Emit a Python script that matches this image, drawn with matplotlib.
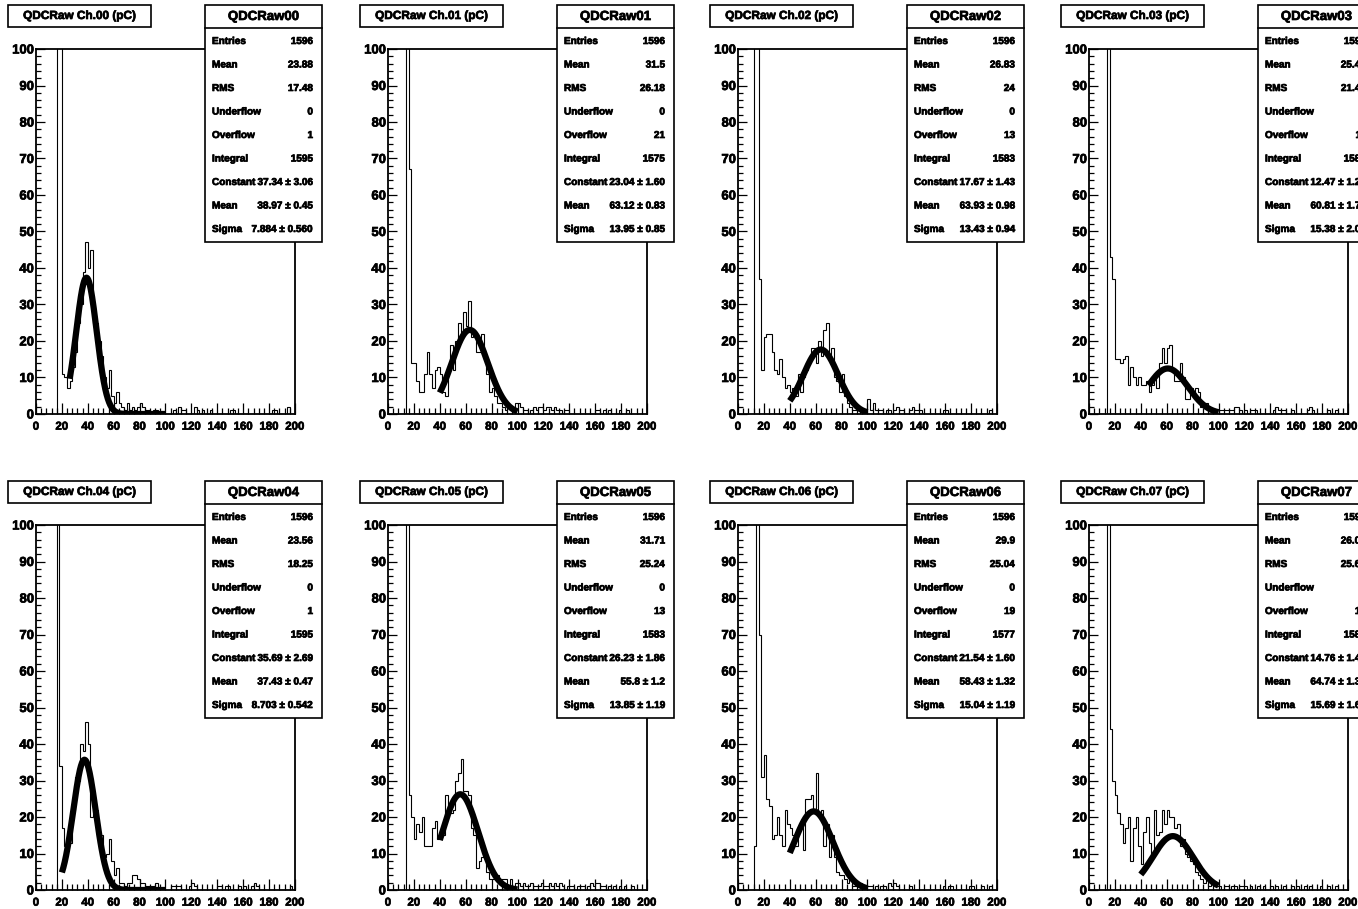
import matplotlib
matplotlib.use('Agg')
import matplotlib.pyplot as plt
import matplotlib.patheffects as pe
from matplotlib.ticker import MultipleLocator
from matplotlib.patches import Rectangle
import numpy as np

plt.rcParams['font.family'] = ['Liberation Sans', 'DejaVu Sans']
plt.rcParams['font.weight'] = 'bold'

W, H = 1358, 909

# histogram binning: 100 bins of 2 pC from 0 to 200
edges = np.arange(0, 202, 2)

channels = ['00', '01', '02', '03', '04', '05', '06', '07']

counts_00 = [0, 0, 0, 0, 0, 0, 0, 0, 250, 150,
             11, 10, 7, 9, 13, 17, 25, 30, 39, 47,
             40, 45, 25, 25, 20, 16, 10, 7, 12, 5,
             3, 6, 3, 2, 1, 3, 1, 2, 1, 2,
             3, 2, 1, 1, 0, 1, 1, 0, 0, 0,
             0, 0, 0, 1, 0, 2, 1, 1, 0, 0,
             0, 2, 1, 0, 1, 0, 0, 1, 0, 0,
             0, 0, 0, 0, 0, 1, 1, 0, 0, 0,
             0, 0, 0, 0, 0, 0, 0, 0, 0, 0,
             0, 1, 1, 0, 0, 0, 0, 2, 0, 0]
counts_01 = [0, 0, 0, 0, 0, 0, 0, 200, 67, 14,
             14, 9, 6, 6, 11, 17, 11, 7, 12, 13,
             11, 6, 5, 13, 19, 12, 20, 25, 22, 28,
             24, 31, 21, 22, 17, 17, 22, 15, 11, 6,
             7, 5, 3, 3, 2, 1, 2, 1, 1, 3,
             3, 2, 1, 1, 0, 1, 2, 1, 2, 2,
             1, 2, 2, 1, 2, 1, 1, 0, 1, 1,
             0, 0, 0, 0, 0, 0, 0, 0, 0, 0,
             1, 1, 0, 1, 0, 1, 0, 0, 0, 1,
             0, 0, 1, 0, 0, 0, 0, 0, 0, 0]
counts_02 = [0, 0, 0, 0, 0, 0, 180, 130, 37, 12,
             21, 22, 22, 17, 12, 11, 15, 10, 7, 8,
             6, 7, 5, 11, 6, 10, 12, 15, 18, 18,
             14, 20, 16, 23, 25, 16, 18, 10, 9, 6,
             11, 5, 3, 2, 1, 1, 1, 0, 1, 0,
             4, 1, 3, 1, 1, 1, 0, 1, 1, 0,
             1, 2, 1, 1, 0, 0, 1, 2, 1, 1,
             1, 0, 0, 0, 0, 0, 0, 0, 0, 1,
             1, 0, 0, 0, 0, 0, 0, 0, 0, 0,
             0, 0, 0, 0, 0, 0, 0, 1, 0, 0]
counts_03 = [0, 0, 0, 0, 0, 0, 0, 200, 43, 37,
             15, 15, 14, 15, 16, 8, 13, 10, 8, 10,
             8, 8, 9, 6, 8, 10, 7, 14, 18, 14,
             18, 19, 12, 9, 9, 14, 10, 4, 4, 7,
             6, 7, 6, 2, 3, 3, 1, 1, 1, 0,
             1, 1, 1, 1, 1, 1, 2, 2, 1, 0,
             1, 0, 1, 1, 1, 0, 0, 0, 0, 0,
             0, 1, 2, 1, 1, 1, 0, 0, 1, 0,
             0, 0, 0, 0, 1, 2, 1, 0, 0, 0,
             0, 0, 1, 0, 0, 1, 0, 0, 0, 0]
counts_04 = [0, 0, 0, 0, 0, 0, 0, 0, 200, 34,
             17, 12, 14, 13, 22, 31, 30, 40, 38, 46,
             40, 20, 22, 22, 13, 15, 9, 10, 14, 8,
             4, 6, 2, 2, 1, 2, 2, 4, 4, 3,
             2, 2, 1, 1, 1, 1, 2, 0, 0, 0,
             0, 0, 1, 1, 1, 1, 0, 0, 0, 1,
             2, 1, 0, 0, 0, 0, 0, 0, 0, 0,
             1, 1, 0, 1, 1, 0, 0, 0, 1, 0,
             1, 0, 0, 1, 2, 1, 0, 0, 0, 0,
             0, 0, 0, 0, 0, 0, 0, 0, 1, 0]
counts_05 = [0, 0, 0, 0, 0, 0, 0, 200, 26, 20,
             14, 18, 16, 20, 12, 12, 12, 17, 19, 14,
             15, 15, 26, 21, 21, 22, 30, 32, 36, 27,
             27, 26, 17, 15, 6, 8, 9, 10, 5, 3,
             3, 4, 4, 3, 3, 3, 1, 3, 1, 2,
             2, 1, 2, 1, 1, 2, 1, 1, 1, 2,
             1, 1, 2, 1, 2, 1, 2, 1, 0, 1,
             1, 1, 0, 1, 1, 1, 0, 1, 2, 1,
             2, 2, 1, 1, 0, 1, 0, 1, 0, 1,
             0, 1, 0, 0, 1, 0, 0, 0, 0, 0]
counts_06 = [0, 0, 0, 0, 0, 0, 12, 200, 70, 31,
             37, 25, 23, 14, 15, 20, 15, 12, 22, 18,
             17, 15, 12, 17, 18, 11, 25, 25, 26, 21,
             32, 21, 22, 12, 18, 9, 15, 9, 5, 4,
             4, 3, 2, 4, 1, 1, 2, 2, 1, 0,
             1, 1, 0, 1, 0, 1, 1, 0, 2, 1,
             2, 1, 0, 0, 0, 0, 1, 0, 0, 0,
             0, 0, 0, 0, 0, 0, 0, 0, 0, 1,
             0, 1, 1, 0, 0, 0, 0, 0, 0, 1,
             1, 0, 0, 0, 1, 0, 0, 1, 0, 0]
counts_07 = [0, 0, 0, 0, 0, 0, 0, 200, 44, 30,
             26, 21, 18, 13, 17, 20, 8, 17, 20, 12,
             7, 16, 20, 13, 10, 22, 15, 16, 22, 18,
             22, 20, 20, 17, 18, 12, 14, 10, 9, 8,
             7, 5, 4, 3, 2, 4, 1, 2, 1, 1,
             1, 0, 1, 1, 0, 1, 1, 0, 1, 1,
             1, 0, 1, 0, 0, 1, 0, 1, 0, 0,
             1, 0, 1, 0, 0, 1, 0, 0, 1, 0,
             1, 0, 0, 1, 0, 1, 0, 0, 0, 1,
             0, 0, 1, 0, 0, 1, 0, 0, 0, 0]
all_counts = [counts_00, counts_01, counts_02, counts_03,
              counts_04, counts_05, counts_06, counts_07]

# stats box contents
st_entries = ['1596', '1596', '1596', '1596', '1596', '1596', '1596', '1596']
st_mean = ['23.88', '31.5', '26.83', '25.44', '23.56', '31.71', '29.9', '26.05']
st_rms = ['17.48', '26.18', '24', '21.46', '18.25', '25.24', '25.04', '25.64']
st_under = ['0', '0', '0', '0', '0', '0', '0', '0']
st_over = ['1', '21', '13', '11', '1', '13', '19', '14']
st_integral = ['1595', '1575', '1583', '1585', '1595', '1583', '1577', '1582']

# gaussian fit results
fit_const = [37.34, 23.04, 17.67, 12.47, 35.69, 26.23, 21.54, 14.76]
fit_const_err = ['3.06', '1.60', '1.43', '1.25', '2.69', '1.86', '1.60', '1.42']
fit_mean = [38.97, 63.12, 63.93, 60.81, 37.43, 55.8, 58.43, 64.74]
fit_mean_err = ['0.45', '0.83', '0.98', '1.73', '0.47', '1.2', '1.32', '1.35']
fit_sigma = [7.884, 13.95, 13.43, 15.38, 8.703, 13.85, 15.04, 15.69]
fit_sigma_err = ['0.560', '0.85', '0.94', '2.05', '0.542', '1.19', '1.19', '1.66']
fit_lo = [26, 40, 40, 46, 20, 40, 40, 40]
fit_hi = [100, 100, 100, 100, 100, 100, 100, 100]

col_x = [0, 352, 702, 1053]
row_y = [0, 476]

# slightly heavier glyphs, like the ROOT bitmap rendering
heavy = [pe.withStroke(linewidth=0.5, foreground='black')]

fig = plt.figure(figsize=(W / 100, H / 100), dpi=100)

# overlay in pixel coordinates for title and stats boxes
ov = fig.add_axes([0, 0, 1, 1], zorder=10)
ov.set_xlim(0, W)
ov.set_ylim(H, 0)
ov.axis('off')

for k, ch in enumerate(channels):
    cx = col_x[k % 4]
    ry = row_y[k // 4]
    left, right = cx + 36, cx + 295
    top, bottom = ry + 49, ry + 414
    ax = fig.add_axes([left / W, 1 - bottom / H, (right - left) / W, (bottom - top) / H])
    ax.stairs(all_counts[k], edges, color='black', lw=0.8)
    xf = np.linspace(fit_lo[k], fit_hi[k], 300)
    yf = fit_const[k] * np.exp(-0.5 * ((xf - fit_mean[k]) / fit_sigma[k]) ** 2)
    ax.plot(xf, yf, color='black', lw=4.5, solid_capstyle='butt')
    ax.set_xlim(0, 200)
    ax.set_ylim(0, 100)
    ax.set_xticks(range(0, 201, 20))
    ax.set_yticks(range(0, 101, 10))
    ax.xaxis.set_minor_locator(MultipleLocator(4))
    ax.yaxis.set_minor_locator(MultipleLocator(2))
    ax.tick_params(axis='x', which='major', direction='in', length=8, width=0.9,
                   labelsize=8.2, pad=5.5)
    ax.tick_params(axis='x', which='minor', direction='in', length=4.2, width=0.9)
    ax.tick_params(axis='y', which='major', direction='in', length=6.5, width=0.9,
                   labelsize=9.4, pad=1.5)
    ax.tick_params(axis='y', which='minor', direction='in', length=3.3, width=0.9)
    for lab in ax.get_xticklabels() + ax.get_yticklabels():
        lab.set_fontweight('bold')
        lab.set_path_effects(heavy)
    for sp in ax.spines.values():
        sp.set_linewidth(1.3)

    # title box
    ov.add_patch(Rectangle((cx + 8, ry + 5), 143, 22, facecolor='white',
                           edgecolor='black', lw=1.2))
    ov.text(cx + 8 + 71.5, ry + 16, 'QDCRaw Ch.%s (pC)' % ch, ha='center', va='center',
            fontsize=8.5, fontweight='bold', path_effects=heavy)

    # stats box
    bx, by = cx + 205, ry + 5
    ov.add_patch(Rectangle((bx, by), 117, 237, facecolor='white',
                           edgecolor='black', lw=1.2))
    ov.plot([bx, bx + 117], [by + 23, by + 23], color='black', lw=1.2)
    ov.text(bx + 58.5, by + 12, 'QDCRaw' + ch, ha='center', va='center',
            fontsize=9.5, fontweight='bold', path_effects=heavy)
    rows = [
        ('Entries', st_entries[k]),
        ('Mean', st_mean[k]),
        ('RMS', st_rms[k]),
        ('Underflow', st_under[k]),
        ('Overflow', st_over[k]),
        ('Integral', st_integral[k]),
        ('Constant', '%.4g \u00b1 %s' % (fit_const[k], fit_const_err[k])),
        ('Mean', '%.4g \u00b1 %s' % (fit_mean[k], fit_mean_err[k])),
        ('Sigma', '%.4g \u00b1 %s' % (fit_sigma[k], fit_sigma_err[k])),
    ]
    for j, (name, val) in enumerate(rows):
        yy = ry + 41 + j * 23.5
        ov.text(bx + 7, yy, name, ha='left', va='center', fontsize=7.2,
                fontweight='bold', path_effects=heavy)
        ov.text(bx + 108, yy, val, ha='right', va='center', fontsize=7.2,
                fontweight='bold', path_effects=heavy)

fig.savefig('out.png', dpi=100)
